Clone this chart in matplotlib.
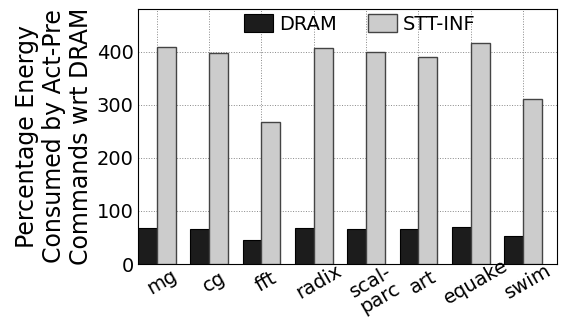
import numpy as np
import matplotlib
matplotlib.use("Agg")
import matplotlib.pyplot as plt

benchmarks = ["mg", "cg", "fft", "radix", "scal-\nparc", "art", "equake", "swim"]
dram = [68, 66, 45, 68, 66, 65, 69, 52]
stt_inf = [409, 397, 267, 407, 400, 390, 416, 311]

fig = plt.figure(figsize=(5.61, 3.23), dpi=100)
ax = fig.add_axes([138 / 561, 1 - 264 / 323, (557 - 138) / 561, (264 - 9) / 323])

x = np.arange(len(benchmarks))
w = 0.36
ax.bar(x - w / 2, dram, w, color="#1c1c1c", edgecolor="black", linewidth=0.8,
       label="DRAM", zorder=3)
ax.bar(x + w / 2, stt_inf, w, color="#cccccc", edgecolor="#444444", linewidth=1.0,
       label="STT-INF", zorder=3)

ax.set_xlim(-w, len(benchmarks) - 1 + 0.65)
ax.set_ylim(0, 480)
ax.set_yticks([0, 100, 200, 300, 400])
ax.set_xticks(x)
ax.set_xticklabels(benchmarks, rotation=30, fontsize=14, ha="center",
                   rotation_mode="anchor", va="top", linespacing=1.0)
ax.tick_params(axis="y", labelsize=14, length=0, pad=3)
ax.tick_params(axis="x", length=0, pad=7)
ax.grid(True, linestyle=":", color="#888888", linewidth=0.7, zorder=0)
ax.set_axisbelow(True)

ax.set_ylabel("Percentage Energy\nConsumed by Act-Pre\nCommands wrt DRAM",
              fontsize=17, linespacing=1.15, labelpad=3)

ax.legend(loc="upper center", ncol=2, frameon=False, fontsize=14,
          bbox_to_anchor=(0.53, 1.05), handlelength=1.5, handleheight=1.1,
          columnspacing=1.6, handletextpad=0.3)

fig.savefig("out.png", dpi=100)
